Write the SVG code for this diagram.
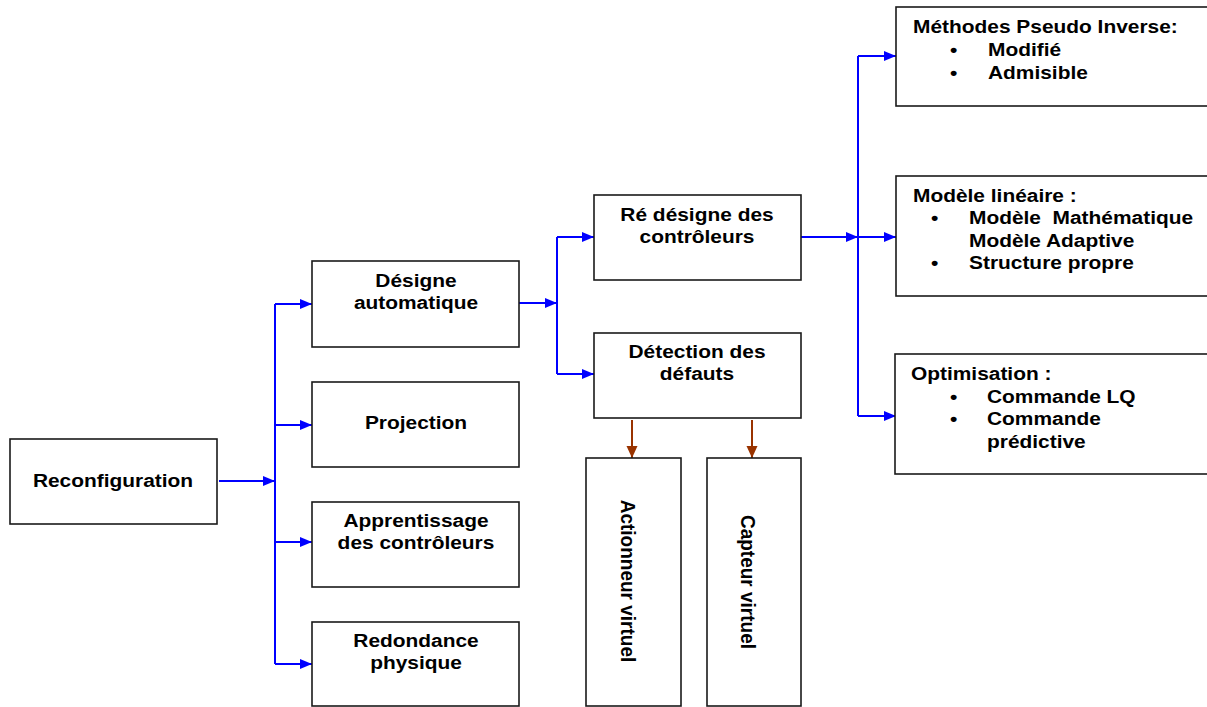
<svg xmlns="http://www.w3.org/2000/svg" width="1207" height="707" viewBox="0 0 1207 707">
  <style>
    .box { fill: #ffffff; stroke: #1a1a1a; stroke-width: 1.6; }
    .lbl { font-family: "Liberation Sans", Arial, sans-serif; font-weight: bold; font-size: 19px; fill: #000000; }
    .bul { font-family: "Liberation Sans", Arial, sans-serif; font-weight: bold; font-size: 19px; fill: #000000; }
    .c { text-anchor: middle; }
    .blue { fill: none; stroke: #0000ff; stroke-width: 2; }
    .brown { fill: none; stroke: #993300; stroke-width: 2; }
  </style>
  <defs>
    <marker id="arrowBlue" markerUnits="userSpaceOnUse" markerWidth="13" markerHeight="11" refX="12" refY="5.5" orient="auto">
      <path d="M0,0.5 L12,5.5 L0,10.5 z" fill="#0000ff"/>
    </marker>
    <marker id="arrowBrown" markerUnits="userSpaceOnUse" markerWidth="13" markerHeight="12" refX="12" refY="6" orient="auto">
      <path d="M0,0.5 L12,6 L0,11.5 z" fill="#993300"/>
    </marker>
  </defs>
  <rect width="1207" height="707" fill="#ffffff"/>

  <!-- connectors -->
  <g id="connectors">
    <path class="blue" d="M219,481 H275" marker-end="url(#arrowBlue)"/>
    <path class="blue" d="M275,304 V664"/>
    <path class="blue" d="M275,304 H312" marker-end="url(#arrowBlue)"/>
    <path class="blue" d="M275,425 H312" marker-end="url(#arrowBlue)"/>
    <path class="blue" d="M275,542 H312" marker-end="url(#arrowBlue)"/>
    <path class="blue" d="M275,664 H312" marker-end="url(#arrowBlue)"/>

    <path class="blue" d="M519,303 H557" marker-end="url(#arrowBlue)"/>
    <path class="blue" d="M557,237 V374"/>
    <path class="blue" d="M557,237 H594" marker-end="url(#arrowBlue)"/>
    <path class="blue" d="M557,374 H594" marker-end="url(#arrowBlue)"/>

    <path class="blue" d="M801,237 H858" marker-end="url(#arrowBlue)"/>
    <path class="blue" d="M858,56 V416"/>
    <path class="blue" d="M858,56 H896" marker-end="url(#arrowBlue)"/>
    <path class="blue" d="M858,237 H896" marker-end="url(#arrowBlue)"/>
    <path class="blue" d="M858,416 H896" marker-end="url(#arrowBlue)"/>

    <path class="brown" d="M632,420 V458" marker-end="url(#arrowBrown)"/>
    <path class="brown" d="M752,420 V458" marker-end="url(#arrowBrown)"/>
  </g>

  <g id="reconfiguration">
    <rect class="box" x="10" y="439" width="207" height="85"/>
    <text class="lbl c" transform="translate(113,487) scale(1.1,1)">Reconfiguration</text>
  </g>

  <g id="designe-automatique">
    <rect class="box" x="312" y="261" width="207" height="86"/>
    <text class="lbl c" transform="translate(416,287) scale(1.1,1)">Désigne</text>
    <text class="lbl c" transform="translate(416,309) scale(1.1,1)">automatique</text>
  </g>

  <g id="projection">
    <rect class="box" x="312" y="382" width="207" height="85"/>
    <text class="lbl c" transform="translate(416,429) scale(1.1,1)">Projection</text>
  </g>

  <g id="apprentissage">
    <rect class="box" x="312" y="502" width="207" height="85"/>
    <text class="lbl c" transform="translate(416,527) scale(1.1,1)">Apprentissage</text>
    <text class="lbl c" transform="translate(416,549) scale(1.1,1)">des contrôleurs</text>
  </g>

  <g id="redondance">
    <rect class="box" x="312" y="622" width="207" height="84"/>
    <text class="lbl c" transform="translate(416,647) scale(1.1,1)">Redondance</text>
    <text class="lbl c" transform="translate(416,669) scale(1.1,1)">physique</text>
  </g>

  <g id="redesigne">
    <rect class="box" x="594" y="195" width="207" height="85"/>
    <text class="lbl c" transform="translate(697,221) scale(1.1,1)">Ré désigne des</text>
    <text class="lbl c" transform="translate(697,243) scale(1.1,1)">contrôleurs</text>
  </g>

  <g id="detection">
    <rect class="box" x="594" y="333" width="207" height="85"/>
    <text class="lbl c" transform="translate(697,358) scale(1.1,1)">Détection des</text>
    <text class="lbl c" transform="translate(697,380) scale(1.1,1)">défauts</text>
  </g>

  <g id="actionneur">
    <rect class="box" x="586" y="458" width="95" height="248"/>
    <text class="lbl c" transform="translate(621,581) scale(1.1,1) rotate(90)">Actionneur virtuel</text>
  </g>

  <g id="capteur">
    <rect class="box" x="707" y="458" width="94" height="248"/>
    <text class="lbl c" transform="translate(741,582) scale(1.1,1) rotate(90)">Capteur virtuel</text>
  </g>

  <g id="pseudo-inverse">
    <rect class="box" x="896" y="7" width="320" height="99"/>
    <text class="lbl" transform="translate(913,33) scale(1.1,1)">Méthodes Pseudo Inverse:</text>
    <text class="bul" transform="translate(950,56) scale(1.1,1)">•</text>
    <text class="lbl" transform="translate(988,56) scale(1.1,1)">Modifié</text>
    <text class="bul" transform="translate(950,79) scale(1.1,1)">•</text>
    <text class="lbl" transform="translate(988,79) scale(1.1,1)">Admisible</text>
  </g>

  <g id="modele-lineaire">
    <rect class="box" x="896" y="176" width="320" height="120"/>
    <text class="lbl" transform="translate(913,202) scale(1.1,1)">Modèle linéaire :</text>
    <text class="bul" transform="translate(931,224) scale(1.1,1)">•</text>
    <text class="lbl" transform="translate(969,224) scale(1.1,1)" xml:space="preserve">Modèle  Mathématique</text>
    <text class="lbl" transform="translate(969,247) scale(1.1,1)">Modèle Adaptive</text>
    <text class="bul" transform="translate(931,269) scale(1.1,1)">•</text>
    <text class="lbl" transform="translate(969,269) scale(1.1,1)">Structure propre</text>
  </g>

  <g id="optimisation">
    <rect class="box" x="895" y="354" width="320" height="120"/>
    <text class="lbl" transform="translate(911,380) scale(1.1,1)">Optimisation :</text>
    <text class="bul" transform="translate(950,403) scale(1.1,1)">•</text>
    <text class="lbl" transform="translate(987,403) scale(1.1,1)">Commande LQ</text>
    <text class="bul" transform="translate(950,425) scale(1.1,1)">•</text>
    <text class="lbl" transform="translate(987,425) scale(1.1,1)">Commande</text>
    <text class="lbl" transform="translate(987,448) scale(1.1,1)">prédictive</text>
  </g>
</svg>
